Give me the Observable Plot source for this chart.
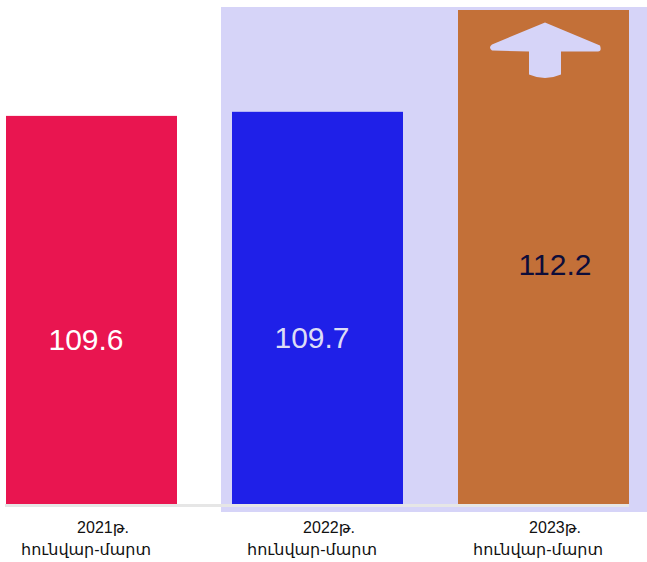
<!DOCTYPE html>
<html>
<head>
<meta charset="utf-8">
<script src="https://cdn.jsdelivr.net/npm/d3@7"></script>
<script src="https://cdn.jsdelivr.net/npm/@observablehq/plot@0.6"></script>
<style>
  html, body { margin: 0; padding: 0; background: #ffffff; }
  #chart { width: 647px; height: 562px; }
  svg { font-family: "Liberation Sans", Arial, "DejaVu Sans", sans-serif; }
</style>
</head>
<body>
<div id="chart"></div>
<script>
// ---- data ----
const years = ["2021թ.", "2022թ.", "2023թ."];
const periods = ["հունվար-մարտ", "հունվար-մարտ", "հունվար-մարտ"];
const values = [109.6, 109.7, 112.2];
const barColors = ["#e91550", "#1f20e8", "#c37038"];
const labelColors = ["#ffffff", "#dcdcf6", "#0d0d3a"];

const yMin = 100.07;   // baseline of the (non-zero) value axis
const yMax = 112.2;

const data = years.map((y, i) => ({
  key: y, year: y, period: periods[i], value: values[i],
  color: barColors[i], label: labelColors[i], i
}));

// decorative lavender panel behind the last two bars, derived from scales
function panel(index, scales, values, dims) {
  const x = scales.x, y = scales.y;
  const left = x(years[1]) - 11;
  const right = dims.width;
  const top = y(yMax) - 3;
  const bottom = y(yMin) + 8;
  const g = d3.create("svg:g");
  g.append("rect")
    .attr("x", left).attr("y", top)
    .attr("width", right - left).attr("height", bottom - top)
    .attr("fill", "#d6d4f8");
  return g.node();
}

// custom up-arrow symbol
const arrowSymbol = {
  draw(ctx) {
    ctx.moveTo(0, -28);
    ctx.lineTo(55, -5);
    ctx.quadraticCurveTo(57, 1, 53, 1);
    ctx.lineTo(16, 1);
    ctx.lineTo(16, 24);
    ctx.quadraticCurveTo(0, 31, -16, 24);
    ctx.lineTo(-16, 1);
    ctx.lineTo(-53, 0);
    ctx.quadraticCurveTo(-57, -3, -53, -6);
    ctx.closePath();
  }
};

const chart = Plot.plot({
  width: 647,
  height: 562,
  marginLeft: 5,
  marginRight: 18,
  marginTop: 10,
  marginBottom: 58,
  style: { background: "transparent", fontFamily: "'Liberation Sans', Arial, 'DejaVu Sans', sans-serif" },
  x: { domain: years, paddingInner: 0.245, paddingOuter: 0, axis: null },
  y: { domain: [yMin, yMax], axis: null },
  marks: [
    panel,
    Plot.ruleY([yMin], { stroke: "#e6e6e6", strokeWidth: 3, dy: 1 }),
    Plot.barY(data, { x: "key", y1: yMin, y2: "value", fill: "color" }),
    Plot.dot(data.filter(d => d.i === 2), {
      x: "key", y: "value", symbol: arrowSymbol, r: 10, fill: "#d6d4f8", stroke: "none", dx: 1, dy: 40
    }),
    Plot.text(data.filter(d => d.i < 2), {
      x: "key", y: d => (yMin + d.value) / 2, text: d => d.value.toFixed(1),
      fill: "label", fontSize: 30, dx: -6, dy: 30
    }),
    Plot.text(data.filter(d => d.i === 2), {
      x: "key", y: d => (yMin + d.value) / 2, text: d => d.value.toFixed(1),
      fill: "label", fontSize: 30, dx: 11, dy: 8
    }),
    Plot.text(data, {
      x: "key", text: "year", frameAnchor: "bottom", fontSize: 16, fill: "#111", dx: 11, dy: 28
    }),
    Plot.text(data, {
      x: "key", text: "period", frameAnchor: "bottom", fontSize: 16, fill: "#111", dx: -6, dy: 50
    })
  ]
});

document.getElementById("chart").appendChild(chart);
</script>
</body>
</html>
